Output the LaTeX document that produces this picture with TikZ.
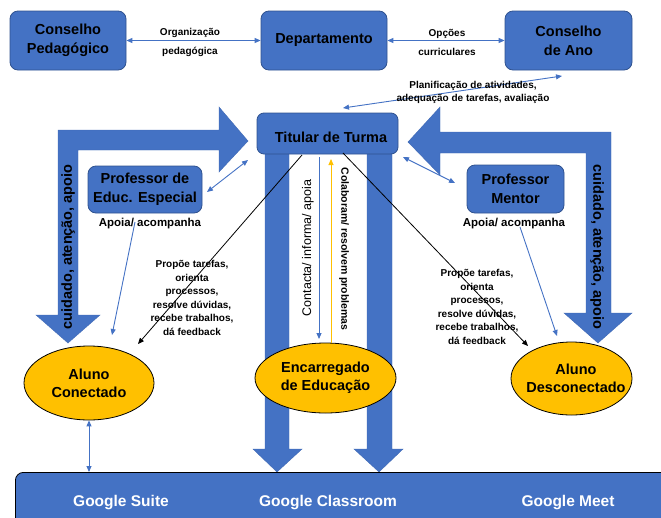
\documentclass[tikz,border=0pt]{standalone}
\usepackage{fontspec}
\setmainfont{Liberation Sans}
\usetikzlibrary{arrows.meta,shapes.geometric}
\definecolor{boxblue}{HTML}{4472C4}
\definecolor{edgeblue}{HTML}{2F528F}
\definecolor{gold}{HTML}{FFC000}
\tikzset{
  box/.style={draw=edgeblue, line width=0.8pt, fill=boxblue, rounded corners=8pt,
    align=center, text=black, inner sep=0pt,
    font=\bfseries\fontsize{14.5}{19}\selectfont},
  person/.style={ellipse, draw=black, line width=0.8pt, fill=gold, align=center,
    inner sep=0pt, text=black, font=\bfseries\fontsize{14.5}{18}\selectfont},
  note/.style={align=center, inner sep=0pt, font=\bfseries\fontsize{10}{13.5}\selectfont},
  link/.style={draw=boxblue, line width=0.9pt, -{Triangle[length=6pt,width=5pt]}},
  duo/.style={draw=boxblue, line width=0.9pt, {Triangle[length=6pt,width=5pt]}-{Triangle[length=6pt,width=5pt]}},
  task/.style={draw=black, line width=0.8pt, -{Triangle[length=6pt,width=5pt]}},
  bigarrow/.style={fill=boxblue, draw=boxblue!92!black, line width=0.4pt},
  platform/.style={text=white, font=\bfseries\fontsize{15.5}{18}\selectfont, inner sep=0pt}
}
\begin{document}
\begin{tikzpicture}[x=1pt,y=-1pt]
\useasboundingbox (0,0) rectangle (661,517);

% large bent arrows: care, attention and support
\path[bigarrow] (248,141) -- (219,107) -- (219,130) -- (58,130) -- (58,315) -- (36,315)
  -- (68,343) -- (100,315) -- (78,315) -- (78,150) -- (219,150) -- (219,172) -- cycle;
\path[bigarrow] (408,142) -- (440,107) -- (440,132) -- (611,132) -- (611,313) -- (632,313)
  -- (598,343) -- (564,313) -- (586,313) -- (586,153) -- (440,153) -- (440,175) -- cycle;

% two columns running down from the class teacher to the platforms
\path[bigarrow] (265,150) -- (289,150) -- (289,449) -- (302,449) -- (277,472)
  -- (253,449) -- (265,449) -- cycle;
\path[bigarrow] (367,150) -- (392,150) -- (392,449) -- (403,449) -- (379,472)
  -- (354,449) -- (367,449) -- cycle;

% platform bar
\node[draw=black, line width=0.8pt, fill=boxblue, rounded corners=8pt,
  minimum width=680pt, minimum height=80pt, anchor=north west, inner sep=0pt]
  (bar) at (15,472) {};
\node[platform] (gsuite) at (121,503) {Google Suite};
\node[platform] (gclass) at (328,503) {Google Classroom};
\node[platform] (gmeet) at (568,503) {Google Meet};

% top level
\node[box, minimum width=116pt, minimum height=59pt] (cp) at (68,40.5) {Conselho\\Pedagógico};
\node[box, minimum width=126pt, minimum height=59pt] (dep) at (324,40.5) {Departamento};
\node[box, minimum width=127pt, minimum height=59pt] (ca) at (568.5,40.5) {Conselho\\de Ano};

\draw[duo] (cp.east) -- (dep.west);
\draw[duo] (dep.east) -- (ca.west);
\node[note, font=\bfseries\fontsize{10}{19}\selectfont] (orgp) at (190,42.5) {Organização\\pedagógica};
\node[note, font=\bfseries\fontsize{10}{19}\selectfont] (opcc) at (447,42.5) {Opções\\curriculares};

% class teacher and teachers
\node[box, rounded corners=7pt, minimum width=141pt, minimum height=41pt] (tt) at (327.5,133.5) {};
\node[font=\bfseries\fontsize{14.5}{19}\selectfont, inner sep=0pt] (ttlabel) at (331,137) {Titular de Turma};
\node[box, minimum width=114pt, minimum height=47pt] (pee) at (145,189.5) {Professor de\\Educ. Especial};
\node[box, minimum width=97pt, minimum height=48pt] (pm) at (515.5,189) {Professor\\Mentor};

\coordinate (planA) at (562,76);
\coordinate (planB) at (343,108);
\draw[duo] (planA) -- (planB);
\node[note, font=\bfseries\fontsize{10}{13}\selectfont] (plan) at (473,92.5)
  {Planificação de atividades,\\adequação de tarefas, avaliação};

\coordinate (peeA) at (207,192);
\coordinate (peeB) at (248,160);
\draw[duo] (peeA) -- (peeB);
\coordinate (pmA) at (403,157);
\coordinate (pmB) at (455,183);
\draw[duo] (pmA) -- (pmB);

\node[note, font=\bfseries\fontsize{11.5}{14}\selectfont] (apL) at (150,224) {Apoia/ acompanha};
\node[note, font=\bfseries\fontsize{11.5}{14}\selectfont] (apR) at (514,224) {Apoia/ acompanha};

% rotated labels on the bent arrows
\node[rotate=90, inner sep=0pt, font=\bfseries\fontsize{14.5}{18}\selectfont] (cuidL) at (68,247) {cuidado, atenção, apoio};
\node[rotate=-90, inner sep=0pt, font=\bfseries\fontsize{14.5}{18}\selectfont] (cuidR) at (597,247) {cuidado, atenção, apoio};

% students and guardian
\node[person, minimum width=130pt, minimum height=74pt] (alc) at (89,383) {Aluno\\Conectado};
\node[person, minimum width=121pt, minimum height=73pt] (ald) at (571.5,378.5) {};
\node[person, draw=none, fill=none, rectangle] (aldlabel) at (576,378) {Aluno\\Desconectado};
\node[person, minimum width=141pt, minimum height=70pt] (ee) at (325.5,378) {Encarregado\\de Educação};

% teacher to guardian exchange
\coordinate (ctA) at (319,157);
\coordinate (ctB) at (319,339);
\draw[link] (ctA) -- (ctB);
\coordinate (colA) at (331,159);
\draw[draw=gold, line width=0.9pt, -{Triangle[length=6pt,width=5pt]}] (ee.north -| colA) -- (colA);
\node[rotate=90, inner sep=0pt, font=\fontsize{12.5}{15}\selectfont] (ct) at (308,248) {Contacta/ informa/ apoia};
\node[rotate=-90, inner sep=0pt, font=\bfseries\fontsize{10.5}{13}\selectfont] (col) at (344,249) {Colaboram/ resolvem problemas};

% support arrows
\coordinate (apLs) at (135,222);
\coordinate (apLe) at (112,335);
\draw[link] (apLs) -- (apLe);
\coordinate (apRs) at (520,227);
\coordinate (apRe) at (557,336);
\draw[link] (apRs) -- (apRe);

% tasks from the class teacher
\coordinate (tkLs) at (302,155);
\coordinate (tkLe) at (138,344);
\draw[task] (tkLs) -- (tkLe);
\coordinate (tkRs) at (343,153);
\coordinate (tkRe) at (528,346);
\draw[task] (tkRs) -- (tkRe);
\node[note] (prL) at (192,298) {Propõe tarefas,\\orienta\\processos,\\resolve dúvidas,\\recebe trabalhos,\\dá feedback};
\node[note] (prR) at (477,307) {Propõe tarefas,\\orienta\\processos,\\resolve dúvidas,\\recebe trabalhos,\\dá feedback};

% connected student to platforms
\draw[duo] (alc.south) -- (alc.south |- bar.north);
\end{tikzpicture}
\end{document}
